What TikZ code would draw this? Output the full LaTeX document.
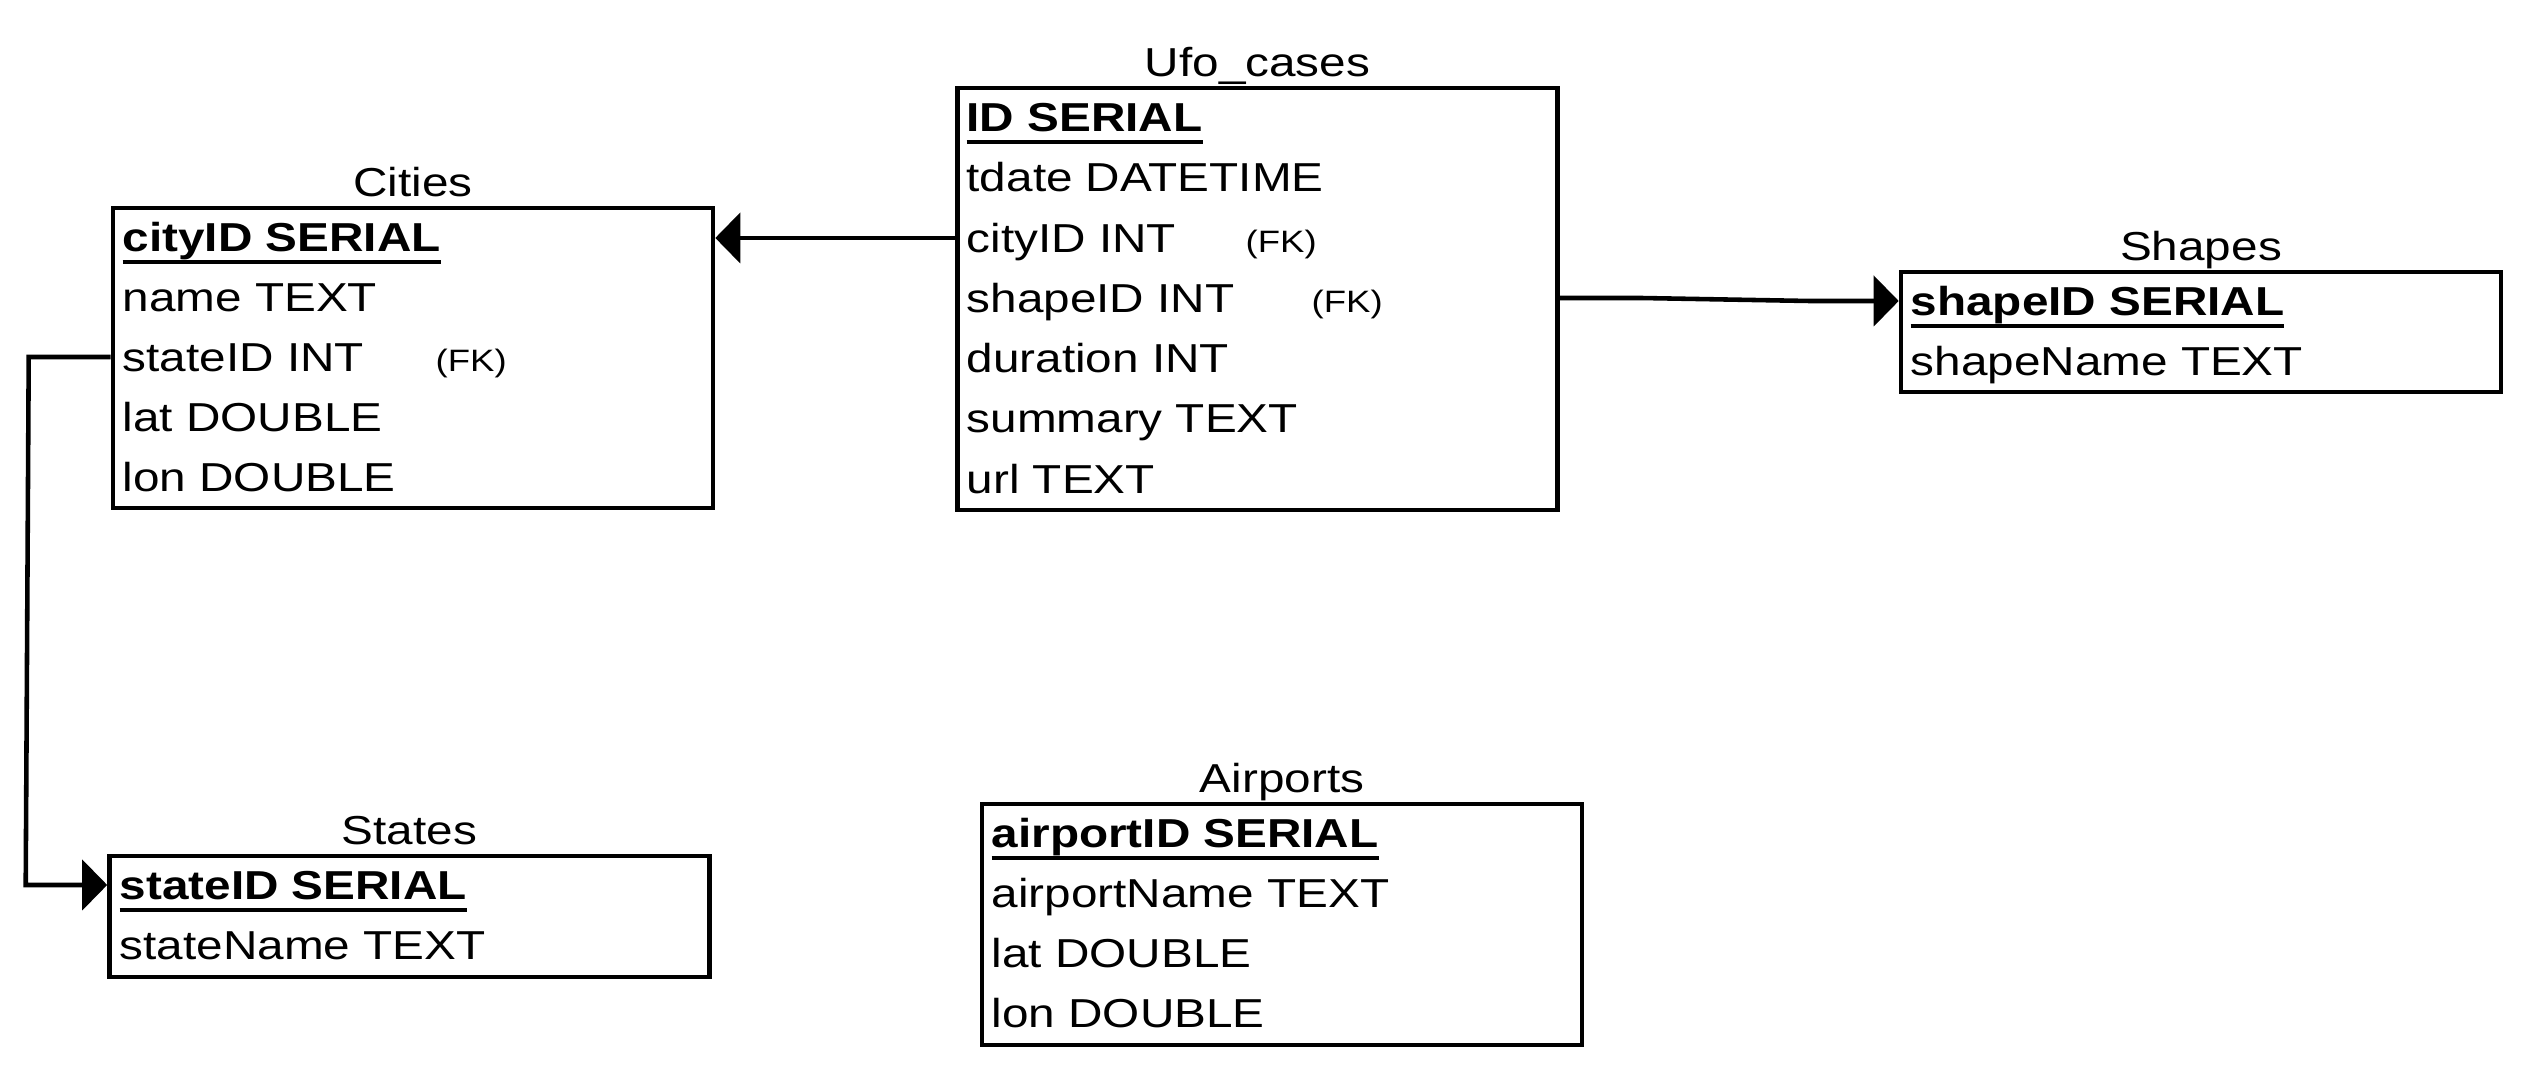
\documentclass[tikz,border=0pt]{standalone}
\usepackage{fontspec}
\setmainfont{Liberation Sans}[FakeStretch=1.18]
\usepackage{tikz}
\usetikzlibrary{arrows.meta, positioning, calc}

\newsavebox{\pkbox}
\newcommand{\pkey}[1]{\sbox\pkbox{\bfseries #1}\rlap{\rule[-3.3pt]{\wd\pkbox}{1pt}}\usebox\pkbox}

\begin{document}
\begin{tikzpicture}[
  every node/.style={font=\fontsize{11.5}{13}\selectfont},
  tbl/.style={draw, line width=1.3pt, minimum width=6cm, inner sep=0pt},
  title/.style={inner sep=0pt},
  row/.style={anchor=base west, inner sep=0pt, text height=0.3cm, text depth=0pt},
  fk/.style={anchor=base west, inner sep=0pt, font=\fontsize{8.8}{10}\selectfont},
  link/.style={-{Triangle[length=2.5mm, width=5mm]}, line width=1.3pt}
]
  \useasboundingbox (0,0) rectangle (25.28,10.72);

  % tables
  \node[tbl, minimum height=4.22cm] (ufo) at (12.575, 7.73) {};
  \node[tbl, minimum height=3cm] (cities) at (4.13, 7.14) {};
  \node[tbl, minimum height=1.2cm] (shapes) at (22.01, 7.40) {};
  \node[tbl, minimum height=1.21cm] (states) at (4.095, 1.555) {};
  \node[tbl, minimum height=2.41cm] (airports) at (12.82, 1.475) {};

  \node[title, above=0.09cm of ufo.north, anchor=base] (ufo-title) {Ufo\_cases};
  \node[title, above=0.09cm of cities.north, anchor=base] (cities-title) {Cities};
  \node[title, above=0.09cm of shapes.north, anchor=base] (shapes-title) {Shapes};
  \node[title, above=0.09cm of states.north, anchor=base] (states-title) {States};
  \node[title, above=0.09cm of airports.north, anchor=base] (airports-title) {Airports};

  % Ufo_cases
  \node[row] (ufo-1) at (9.66, 9.40) {\pkey{ID SERIAL}};
  \node[row] (ufo-2) at (9.66, 8.80) {tdate DATETIME};
  \node[row] (ufo-3) at (9.66, 8.19) {cityID INT};
  \node[row] (ufo-4) at (9.66, 7.59) {shapeID INT};
  \node[row] (ufo-5) at (9.66, 6.99) {duration INT};
  \node[row] (ufo-6) at (9.66, 6.39) {summary TEXT};
  \node[row] (ufo-7) at (9.66, 5.78) {url TEXT};
  \node[fk] (ufo-fk3) at (12.45, 8.19) {(FK)};
  \node[fk] (ufo-fk4) at (13.11, 7.59) {(FK)};

  % Cities
  \node[row] (cities-1) at (1.22, 8.20) {\pkey{cityID SERIAL}};
  \node[row] (cities-2) at (1.22, 7.60) {name TEXT};
  \node[row] (cities-3) at (1.22, 7.00) {stateID INT};
  \node[row] (cities-4) at (1.22, 6.40) {lat DOUBLE};
  \node[row] (cities-5) at (1.22, 5.80) {lon DOUBLE};
  \node[fk] (cities-fk3) at (4.35, 7.00) {(FK)};

  % Shapes, States, Airports
  \node[row] (shapes-1) at (19.10, 7.56) {\pkey{shapeID SERIAL}};
  \node[row] (shapes-2) at (19.10, 6.96) {shapeName TEXT};
  \node[row] (states-1) at (1.19, 1.72) {\pkey{stateID SERIAL}};
  \node[row] (states-2) at (1.19, 1.12) {stateName TEXT};
  \node[row] (airports-1) at (9.91, 2.24) {\pkey{airportID SERIAL}};
  \node[row] (airports-2) at (9.91, 1.64) {airportName TEXT};
  \node[row] (airports-3) at (9.91, 1.04) {lat DOUBLE};
  \node[row] (airports-4) at (9.91, 0.44) {lon DOUBLE};

  % foreign keys
  \draw[link] (ufo.west |- ufo-3.west) -- (cities.east |- ufo-3.west);
  \draw[link] (ufo.east |- ufo-4.west) -- ++(0.8,0)
    -- ($(shapes.west |- shapes-1.west)+(-0.9,0)$) -- (shapes.west |- shapes-1.west);
  \draw[link] (cities.west |- cities-3.west) -- ++(-0.82,0) -- ++(-0.03,-5.28)
    -- (states.west |- states-1.west);
\end{tikzpicture}
\end{document}
